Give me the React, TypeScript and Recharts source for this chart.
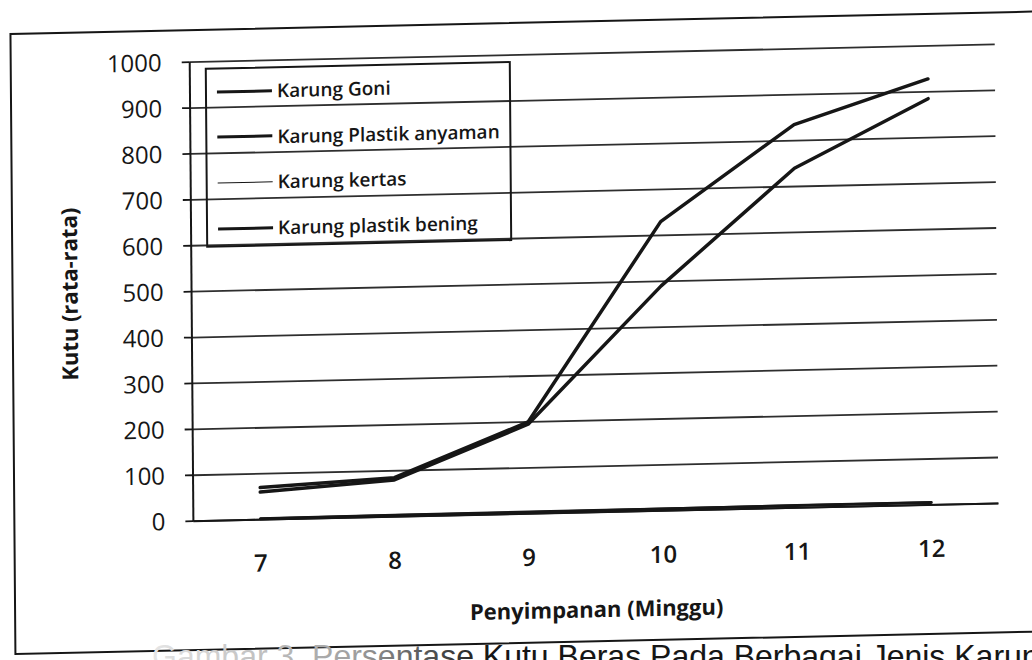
import { CartesianGrid, Legend, Line, LineChart, XAxis, YAxis } from "recharts";

// minggu penyimpanan
const weeks = [7, 8, 9, 10, 11, 12];

// jumlah kutu rata-rata per jenis karung
const karungGoni = [70, 85, 200, 630, 835, 928];
const karungPlastikAnyaman = [60, 80, 195, 490, 740, 885];
const karungKertas = [3, 4, 4, 5, 6, 6];
const karungPlastikBening = [2, 3, 4, 4, 5, 5];

const yTicks = [0, 100, 200, 300, 400, 500, 600, 700, 800, 900, 1000];

const series = [
  { key: "goni", name: "Karung Goni", values: karungGoni, width: 3.5, legendWidth: 3 },
  { key: "anyaman", name: "Karung Plastik anyaman", values: karungPlastikAnyaman, width: 3.5, legendWidth: 3 },
  { key: "kertas", name: "Karung kertas", values: karungKertas, width: 1.8, legendWidth: 1.6 },
  { key: "bening", name: "Karung plastik bening", values: karungPlastikBening, width: 3, legendWidth: 3 },
];

const data = weeks.map((week, i) => {
  const row: Record<string, number> = { week };
  series.forEach((s) => {
    row[s.key] = s.values[i];
  });
  return row;
});

// tick marks sit between the weeks, labels sit on them
const weekEdges = [...weeks.map((w) => w - 0.5), weeks[weeks.length - 1] + 0.5];

const INK = "#161616";
const GRID = "#2e2e2e";
const FONT = '"Open Sans", "Noto Sans", sans-serif';

function LegendBox() {
  return (
    <div style={{ position: "relative", width: "100%", height: "100%" }}>
      {series.map((s, i) => (
        <div
          key={s.key}
          style={{
            position: "absolute",
            left: 10,
            top: 22 + i * 45.7,
            transform: "translateY(-50%)",
            display: "flex",
            alignItems: "center",
          }}
        >
          <span
            style={{
              display: "inline-block",
              width: 55,
              height: s.legendWidth,
              background: INK,
            }}
          />
          <span
            style={{
              marginLeft: 5,
              fontFamily: FONT,
              fontSize: 19,
              fontWeight: 600,
              color: INK,
              lineHeight: "24px",
              whiteSpace: "nowrap",
            }}
          >
            {s.name}
          </span>
        </div>
      ))}
    </div>
  );
}

export default function App() {
  return (
    <div
      style={{
        position: "fixed",
        left: 0,
        top: 0,
        width: 1032,
        height: 660,
        overflow: "hidden",
        background: "#fff",
      }}
    >
      <div
        style={{
          position: "absolute",
          left: 0,
          top: 0,
          width: 1032,
          height: 660,
          transform: "matrix(1, -0.022, 0.008, 1, 0, 0)",
          transformOrigin: "516px 340px",
        }}
      >
        <div
          style={{
            position: "absolute",
            left: 12,
            top: 22,
            width: 1040,
            height: 622,
            border: `2px solid ${INK}`,
            boxSizing: "border-box",
          }}
        />
        <div style={{ position: "absolute", left: 0, top: 0 }}>
          <LineChart
            width={1032}
            height={660}
            data={data}
            margin={{ top: 55, right: 35, bottom: 0, left: 0 }}
          >
            <CartesianGrid
              xAxisId="edges"
              vertical={false}
              stroke={GRID}
              strokeWidth={1.8}
            />
            <XAxis
              xAxisId="edges"
              dataKey="week"
              type="number"
              domain={[weekEdges[0], weekEdges[weekEdges.length - 1]]}
              ticks={weekEdges}
              interval={0}
              height={10}
              tick={false}
              tickSize={8}
              axisLine={{ stroke: INK, strokeWidth: 2 }}
              tickLine={{ stroke: INK, strokeWidth: 1.8 }}
            />
            <XAxis
              xAxisId="labels"
              dataKey="week"
              type="number"
              domain={[weekEdges[0], weekEdges[weekEdges.length - 1]]}
              ticks={weeks}
              interval={0}
              height={136}
              axisLine={false}
              tickLine={false}
              tickSize={0}
              tickMargin={25}
              tick={{ fontFamily: FONT, fontSize: 24, fontWeight: 600, fill: INK }}
              label={(props: any) => {
                const vb = props.viewBox || {};
                const cx = vb.x + vb.width / 2;
                const cy = vb.y + vb.height - 50;
                return (
                  <text
                    x={cx}
                    y={cy}
                    textAnchor="middle"
                    dominantBaseline="central"
                    fontFamily={FONT}
                    fontSize={22}
                    fontWeight={700}
                    fill={INK}
                  >
                    Penyimpanan (Minggu)
                  </text>
                );
              }}
            />
            <YAxis
              domain={[0, 1000]}
              ticks={yTicks}
              interval={0}
              width={192}
              tickSize={8}
              tickMargin={20}
              axisLine={{ stroke: INK, strokeWidth: 2 }}
              tickLine={{ stroke: INK, strokeWidth: 1.8 }}
              tick={{ fontFamily: FONT, fontSize: 24, fill: INK }}
              label={(props: any) => {
                const vb = props.viewBox || {};
                const cx = vb.x + 69;
                const cy = vb.y + vb.height / 2;
                return (
                  <text
                    x={cx}
                    y={cy}
                    transform={`rotate(-90 ${cx} ${cy})`}
                    textAnchor="middle"
                    dominantBaseline="central"
                    fontFamily={FONT}
                    fontSize={22}
                    fontWeight={700}
                    fill={INK}
                  >
                    Kutu (rata-rata)
                  </text>
                );
              }}
            />
            <Legend
              layout="horizontal"
              verticalAlign="middle"
              align="center"
              content={() => <LegendBox />}
              wrapperStyle={{
                left: 207,
                top: 61,
                width: 306,
                height: 180,
                border: `2px solid ${INK}`,
                boxSizing: "border-box",
                background: "transparent",
              }}
            />
            {series.map((s) => (
              <Line
                key={s.key}
                xAxisId="edges"
                type="linear"
                dataKey={s.key}
                name={s.name}
                stroke={INK}
                strokeWidth={s.width}
                strokeLinejoin="round"
                strokeLinecap="round"
                dot={false}
                activeDot={false}
                isAnimationActive={false}
              />
            ))}
          </LineChart>
        </div>
      </div>
      <svg
        width={1032}
        height={80}
        style={{ position: "absolute", left: 0, top: 600 }}
      >
        <defs>
          <linearGradient id="captionFade" gradientUnits="userSpaceOnUse" x1="150" y1="0" x2="490" y2="0">
            <stop offset="0" stopColor="#e6e6e6" />
            <stop offset="0.6" stopColor="#a0a0a0" />
            <stop offset="1" stopColor={INK} />
          </linearGradient>
        </defs>
        <text
          x={152}
          y={67}
          fontFamily='"Liberation Sans", Arial, sans-serif'
          fontSize={32}
          fill="url(#captionFade)"
        >
          Gambar 3. Persentase Kutu Beras Pada Berbagai Jenis Karung
        </text>
      </svg>
    </div>
  );
}
